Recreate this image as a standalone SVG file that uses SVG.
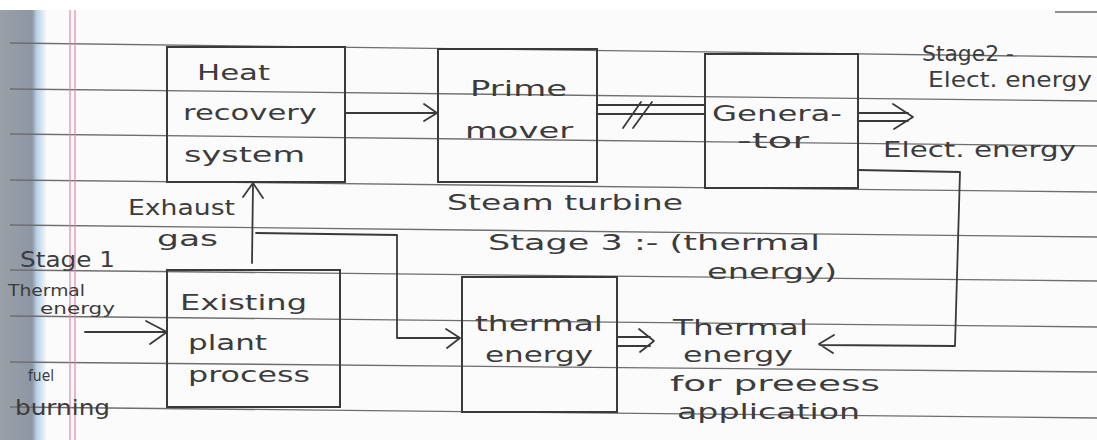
<svg xmlns="http://www.w3.org/2000/svg" width="1097" height="440" viewBox="0 0 1097 440">
<style>
.rule{stroke:#6e6e6e;stroke-width:1.3;fill:none}
.box{fill:none;stroke:#3a3a3a;stroke-width:2}
.ln{fill:none;stroke:#3a3a3a;stroke-width:1.8;stroke-linecap:round;stroke-linejoin:round}
.t{font-family:"DejaVu Sans","Liberation Sans",sans-serif;font-size:22px;fill:#3c3c3c}
.s{font-family:"DejaVu Sans","Liberation Sans",sans-serif;font-size:16px;fill:#3c3c3c}
</style>
<defs>
<linearGradient id="edge" x1="0" y1="0" x2="1" y2="0">
<stop offset="0" stop-color="#9aa0a8"/>
<stop offset="0.7" stop-color="#8d96a3"/>
<stop offset="0.8" stop-color="#b8d0e8"/>
<stop offset="1" stop-color="#f4f6f8"/>
</linearGradient>
</defs>
<rect width="1097" height="440" fill="#ffffff"/>
<rect x="0" y="10" width="1097" height="430" fill="#fbfbfc"/>
<rect x="0" y="10" width="46" height="430" fill="url(#edge)"/>
<g id="paper-lines">
<line class="rule" x1="10" y1="43" x2="1097" y2="57"/>
<line class="rule" x1="10" y1="89" x2="1097" y2="101"/>
<line class="rule" x1="10" y1="134" x2="1097" y2="146"/>
<line class="rule" x1="10" y1="180" x2="1097" y2="192"/>
<line class="rule" x1="10" y1="225" x2="1097" y2="237"/>
<line class="rule" x1="10" y1="270" x2="1097" y2="281"/>
<line class="rule" x1="10" y1="316" x2="1097" y2="327"/>
<line class="rule" x1="10" y1="362" x2="1097" y2="372"/>
<line class="rule" x1="10" y1="407" x2="1097" y2="418"/>
<line class="rule" x1="1055" y1="12" x2="1097" y2="12"/>
<line x1="70" y1="10" x2="70" y2="440" stroke="#e08aa8" stroke-width="1.2"/>
<line x1="75" y1="10" x2="75" y2="440" stroke="#e08aa8" stroke-width="1.2"/>
</g>
<g id="connectors">
<path class="ln" d="M345,113 L436,113 M424,104 L437,113 L424,121"/>
<path class="ln" d="M597,105 L705,105 M597,114 L705,114 M623,128 L641,102 M633,128 L652,102"/>
<path class="ln" d="M858,113 L908,113 M858,121 L908,121 M893,104 L913,117 L894,129"/>
<path class="ln" d="M858,170 L960,172 L955,346 L820,345 M834,335 L819,344 L833,353"/>
<path class="ln" d="M252,263 L253,184 M243,197 L253,183 L263,198"/>
<path class="ln" d="M256,233 L397,235 L397,338 L459,338 M446,329 L460,338 L447,348"/>
<path class="ln" d="M85,332 L166,332 M146,321 L167,332 L150,344"/>
<path class="ln" d="M617,337 L650,337 M617,346 L650,346 M639,329 L654,341 L640,352"/>
</g>
<g id="heat-recovery">
<rect class="box" x="167" y="47" width="178" height="135"/>
<text class="t" x="197" y="80" textLength="73" lengthAdjust="spacingAndGlyphs">Heat</text>
<text class="t" x="183" y="120" textLength="134" lengthAdjust="spacingAndGlyphs">recovery</text>
<text class="t" x="184" y="162" textLength="121" lengthAdjust="spacingAndGlyphs">system</text>
</g>
<g id="prime-mover">
<rect class="box" x="438" y="49" width="159" height="133"/>
<text class="t" x="470" y="96" textLength="97" lengthAdjust="spacingAndGlyphs">Prime</text>
<text class="t" x="465" y="138" textLength="108" lengthAdjust="spacingAndGlyphs">mover</text>
<text class="t" x="447" y="210" textLength="236" lengthAdjust="spacingAndGlyphs">Steam turbine</text>
</g>
<g id="generator">
<rect class="box" x="705" y="54" width="153" height="134"/>
<text class="t" x="712" y="121" textLength="130" lengthAdjust="spacingAndGlyphs">Genera-</text>
<text class="t" x="737" y="148" textLength="72" lengthAdjust="spacingAndGlyphs">-tor</text>
<text class="t" x="922" y="61" textLength="92" lengthAdjust="spacingAndGlyphs">Stage2 -</text>
<text class="t" x="928" y="87" textLength="164" lengthAdjust="spacingAndGlyphs">Elect. energy</text>
<text class="t" x="883" y="157" textLength="193" lengthAdjust="spacingAndGlyphs">Elect. energy</text>
</g>
<g id="existing-plant">
<rect class="box" x="167" y="270" width="173" height="137"/>
<text class="t" x="180" y="310" textLength="127" lengthAdjust="spacingAndGlyphs">Existing</text>
<text class="t" x="188" y="350" textLength="79" lengthAdjust="spacingAndGlyphs">plant</text>
<text class="t" x="188" y="382" textLength="122" lengthAdjust="spacingAndGlyphs">process</text>
<text class="t" x="128" y="215" textLength="107" lengthAdjust="spacingAndGlyphs">Exhaust</text>
<text class="t" x="157" y="246" textLength="61" lengthAdjust="spacingAndGlyphs">gas</text>
<text class="t" x="20" y="267" textLength="95" lengthAdjust="spacingAndGlyphs">Stage 1</text>
<text class="s" x="8" y="296" textLength="77" lengthAdjust="spacingAndGlyphs">Thermal</text>
<text class="s" x="40" y="314" textLength="75" lengthAdjust="spacingAndGlyphs">energy</text>
<text class="s" x="28" y="381" textLength="26" lengthAdjust="spacingAndGlyphs">fuel</text>
<text class="t" x="15" y="415" textLength="95" lengthAdjust="spacingAndGlyphs">burning</text>
</g>
<g id="thermal-energy">
<rect class="box" x="462" y="277" width="155" height="135"/>
<text class="t" x="475" y="331" textLength="128" lengthAdjust="spacingAndGlyphs">thermal</text>
<text class="t" x="485" y="362" textLength="108" lengthAdjust="spacingAndGlyphs">energy</text>
<text class="t" x="488" y="250" textLength="332" lengthAdjust="spacingAndGlyphs">Stage 3 :- (thermal</text>
<text class="t" x="707" y="279" textLength="130" lengthAdjust="spacingAndGlyphs">energy)</text>
<text class="t" x="673" y="335" textLength="135" lengthAdjust="spacingAndGlyphs">Thermal</text>
<text class="t" x="683" y="362" textLength="110" lengthAdjust="spacingAndGlyphs">energy</text>
<text class="t" x="670" y="391" textLength="210" lengthAdjust="spacingAndGlyphs">for preeess</text>
<text class="t" x="677" y="419" textLength="183" lengthAdjust="spacingAndGlyphs">application</text>
</g>
</svg>
